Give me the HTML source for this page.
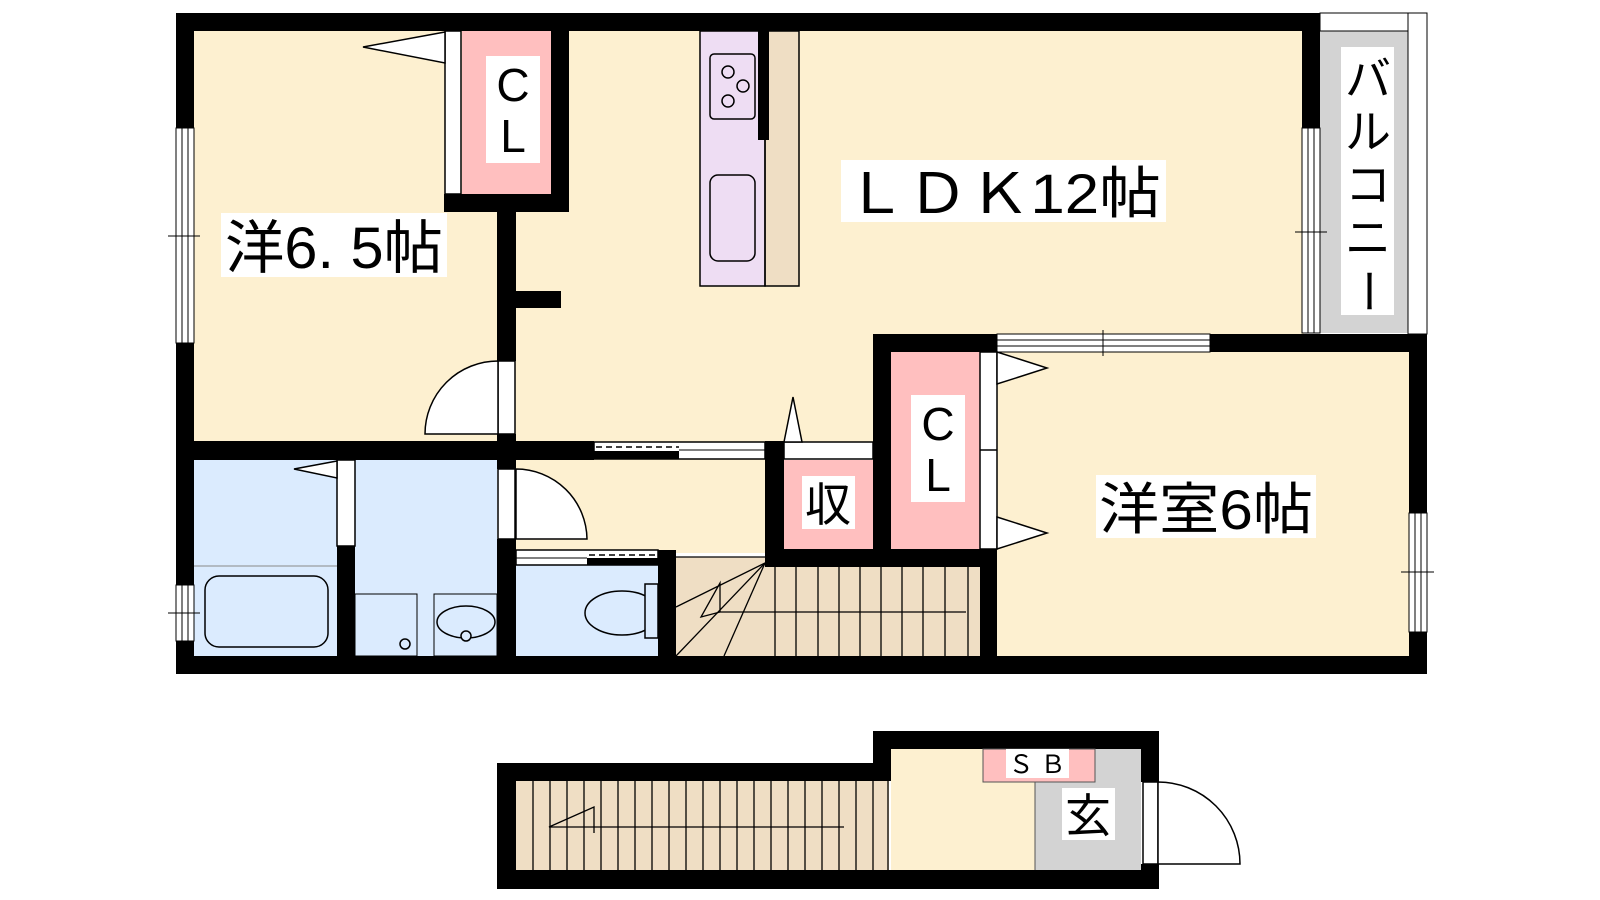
<!DOCTYPE html>
<html><head><meta charset="utf-8"><style>
html,body{margin:0;padding:0;background:#fff;}
svg{display:block;}
text{font-family:"Liberation Sans","Noto Sans CJK JP",sans-serif;}
</style></head><body>
<svg width="1600" height="900" viewBox="0 0 1600 900" xmlns="http://www.w3.org/2000/svg">
<g stroke="none">
<rect x="194" y="31" width="1110" height="412" fill="#FDF0D0"/>
<rect x="516" y="443" width="250" height="110" fill="#FDF0D0"/>
<rect x="997" y="350" width="412" height="306" fill="#FDF0D0"/>
<rect x="1320" y="31" width="88" height="302" fill="#D3D3D3"/>
<rect x="194" y="460" width="143" height="196" fill="#DBEBFE"/>
<rect x="355" y="460" width="142" height="196" fill="#DBEBFE"/>
<rect x="516" y="565" width="142" height="91" fill="#DBEBFE"/>
<rect x="676" y="557" width="304" height="99" fill="#EFDEC4"/>
<rect x="462" y="31" width="89" height="163" fill="#FFBFBF"/>
<rect x="784" y="460" width="89" height="89" fill="#FFBFBF"/>
<rect x="891" y="352" width="89" height="197" fill="#FFBFBF"/>
<rect x="700" y="31" width="65" height="255" fill="#EEDDF3"/>
<rect x="765" y="31" width="34" height="255" fill="#EFDEC4"/>
</g>
<g fill="none" stroke="#000" stroke-width="1.5">
<rect x="700" y="31" width="65" height="255"/>
<rect x="765" y="31" width="34" height="255"/>
<rect x="710" y="54" width="45" height="65" rx="4"/>
<circle cx="728" cy="72" r="6"/><circle cx="743" cy="86" r="6"/><circle cx="728" cy="101" r="6"/>
<rect x="710" y="175" width="45" height="86" rx="8"/>
</g>
<g fill="#000">
<rect x="176" y="13" width="1144" height="18"/>
<rect x="176" y="13" width="18" height="115"/>
<rect x="176" y="343" width="18" height="242"/>
<rect x="176" y="641" width="18" height="33"/>
<rect x="176" y="656" width="1251" height="18"/>
<rect x="1302" y="13" width="18" height="115"/>
<rect x="873" y="334" width="124" height="18"/>
<rect x="1210" y="334" width="217" height="18"/>
<rect x="1409" y="334" width="18" height="179"/>
<rect x="1409" y="632" width="18" height="42"/>
<rect x="551" y="31" width="18" height="181"/>
<rect x="444" y="194" width="125" height="18"/>
<rect x="497" y="212" width="19" height="149"/>
<rect x="516" y="291" width="45" height="17"/>
<rect x="497" y="434" width="19" height="35"/>
<rect x="176" y="441" width="418" height="19"/>
<rect x="337" y="546" width="18" height="110"/>
<rect x="497" y="539" width="19" height="117"/>
<rect x="658" y="550" width="18" height="106"/>
<rect x="758" y="31" width="11" height="109"/>
<rect x="765" y="441" width="19" height="126"/>
<rect x="765" y="549" width="232" height="18"/>
<rect x="873" y="334" width="18" height="233"/>
<rect x="980" y="549" width="17" height="107"/>
<rect x="497" y="763" width="394" height="18"/>
<rect x="497" y="763" width="19" height="126"/>
<rect x="497" y="870" width="662" height="19"/>
<rect x="873" y="731" width="286" height="18"/>
<rect x="873" y="731" width="18" height="50"/>
<rect x="1141" y="731" width="18" height="51"/>
<rect x="1141" y="864" width="18" height="25"/>
</g>
<g fill="#fff" stroke="#000" stroke-width="1">
<rect x="176" y="128" width="18" height="215"/>
<line x1="182" y1="128" x2="182" y2="343"/><line x1="188" y1="128" x2="188" y2="343"/>
<line x1="168" y1="236" x2="200" y2="236"/>
<rect x="176" y="585" width="18" height="56"/>
<line x1="182" y1="585" x2="182" y2="641"/><line x1="188" y1="585" x2="188" y2="641"/>
<line x1="168" y1="613" x2="200" y2="613"/>
<rect x="1302" y="128" width="18" height="205"/>
<line x1="1308" y1="128" x2="1308" y2="333"/><line x1="1314" y1="128" x2="1314" y2="333"/>
<line x1="1295" y1="232" x2="1327" y2="232"/>
<rect x="1409" y="513" width="18" height="119"/>
<line x1="1415" y1="513" x2="1415" y2="632"/><line x1="1421" y1="513" x2="1421" y2="632"/>
<line x1="1401" y1="572" x2="1434" y2="572"/>
<rect x="1320" y="13" width="107" height="18"/>
<rect x="1408" y="13" width="19" height="321"/>
<rect x="997" y="334" width="213" height="18"/>
<line x1="997" y1="340" x2="1210" y2="340"/><line x1="997" y1="346" x2="1210" y2="346"/>
<line x1="1103" y1="330" x2="1103" y2="356"/>
</g>
<g fill="#fff" stroke="#000" stroke-width="1.5">
<rect x="445" y="31" width="16" height="163"/>
<polygon points="445,32 363,47 445,63"/>
<rect x="498" y="361" width="17" height="73"/>
<path d="M498,361 A73,73 0 0 0 425,434 L498,434 Z"/>
<rect x="337" y="460" width="18" height="86"/>
<polygon points="337,461 294,469 337,478"/>
<rect x="498" y="469" width="17" height="70"/>
<path d="M516,469 A71,71 0 0 1 587,539 L516,539 Z"/>
<rect x="980" y="352" width="17" height="197"/>
<line x1="980" y1="450" x2="997" y2="450"/>
<polygon points="997,352 1047,368 997,384"/>
<polygon points="997,517 1047,533 997,549"/>
<rect x="784" y="442" width="89" height="17"/>
<polygon points="784,442 793,397 802,442"/>
<rect x="594" y="442" width="171" height="17"/>
<rect x="516" y="550" width="142" height="15"/>
<rect x="1143" y="782" width="15" height="82"/>
<path d="M1158,782 A82,82 0 0 1 1240,864 L1158,864 Z"/>
</g>
<rect x="594" y="451" width="85" height="8" fill="#000"/>
<line x1="596" y1="447" x2="679" y2="447" stroke="#000" stroke-width="1.5" stroke-dasharray="6,4"/>
<line x1="679" y1="450" x2="765" y2="450" stroke="#000" stroke-width="1"/>
<rect x="587" y="558" width="71" height="7" fill="#000"/>
<line x1="589" y1="555" x2="658" y2="555" stroke="#000" stroke-width="1.5" stroke-dasharray="6,4"/>
<line x1="516" y1="558" x2="587" y2="558" stroke="#000" stroke-width="1"/>
<g fill="none" stroke="#000" stroke-width="1.5">
<line x1="194" y1="566" x2="337" y2="566" stroke="#888" stroke-width="1"/>
<rect x="205" y="576" width="123" height="71" rx="14"/>
<rect x="355" y="594" width="62" height="62" stroke-width="1"/>
<circle cx="405" cy="644" r="5"/>
<rect x="434" y="594" width="63" height="62" stroke-width="1"/>
<ellipse cx="466" cy="622" rx="29" ry="16"/>
<circle cx="466" cy="636" r="5" fill="#DBEBFE"/>
<ellipse cx="622" cy="613" rx="37" ry="22"/>
<rect x="645" y="584" width="13" height="54" fill="#DBEBFE"/>
</g>
<g stroke="#000" stroke-width="1.3" fill="none">
<line x1="775" y1="567" x2="775" y2="656"/><line x1="796" y1="567" x2="796" y2="656"/><line x1="818" y1="567" x2="818" y2="656"/><line x1="839" y1="567" x2="839" y2="656"/><line x1="860" y1="567" x2="860" y2="656"/><line x1="881" y1="567" x2="881" y2="656"/><line x1="902" y1="567" x2="902" y2="656"/><line x1="923" y1="567" x2="923" y2="656"/><line x1="945" y1="567" x2="945" y2="656"/><line x1="968" y1="567" x2="968" y2="656"/>
<line x1="676" y1="557" x2="765" y2="557"/>
<line x1="765" y1="563" x2="676" y2="607"/>
<line x1="765" y1="563" x2="676" y2="656"/>
<line x1="765" y1="563" x2="724" y2="656"/>
<polyline points="966,612 720,612 701,617 720,583 720,612"/>
</g>
<rect x="516" y="781" width="373" height="89" fill="#EFDEC4"/>
<rect x="891" y="749" width="144" height="121" fill="#FDF0D0"/>
<rect x="1035" y="749" width="106" height="121" fill="#D3D3D3"/>
<rect x="983" y="749" width="112" height="33" fill="#FFBFBF" stroke="#555" stroke-width="1"/>
<line x1="1035" y1="782" x2="1035" y2="870" stroke="#555" stroke-width="1"/>
<g stroke="#000" stroke-width="1.3" fill="none">
<line x1="533" y1="781" x2="533" y2="870"/><line x1="550" y1="781" x2="550" y2="870"/><line x1="567" y1="781" x2="567" y2="870"/><line x1="584" y1="781" x2="584" y2="870"/><line x1="601" y1="781" x2="601" y2="870"/><line x1="618" y1="781" x2="618" y2="870"/><line x1="635" y1="781" x2="635" y2="870"/><line x1="652" y1="781" x2="652" y2="870"/><line x1="669" y1="781" x2="669" y2="870"/><line x1="686" y1="781" x2="686" y2="870"/><line x1="703" y1="781" x2="703" y2="870"/><line x1="720" y1="781" x2="720" y2="870"/><line x1="737" y1="781" x2="737" y2="870"/><line x1="754" y1="781" x2="754" y2="870"/><line x1="771" y1="781" x2="771" y2="870"/><line x1="788" y1="781" x2="788" y2="870"/><line x1="805" y1="781" x2="805" y2="870"/><line x1="822" y1="781" x2="822" y2="870"/><line x1="839" y1="781" x2="839" y2="870"/><line x1="856" y1="781" x2="856" y2="870"/><line x1="873" y1="781" x2="873" y2="870"/><line x1="888" y1="781" x2="888" y2="870"/>
<polyline points="844,827 549,827 594,807 594,833"/>
</g>
<g fill="#fff">
<rect x="221" y="213" width="226" height="64"/>
<rect x="841" y="160" width="325" height="62"/>
<rect x="1096" y="475" width="220" height="63"/>
<rect x="486" y="56" width="54" height="107"/>
<rect x="911" y="395" width="54" height="107"/>
<rect x="802" y="476" width="53" height="53"/>
<rect x="1341" y="47" width="53" height="268"/>
<rect x="1006" y="749" width="63" height="29"/>
<rect x="1062" y="788" width="53" height="52"/>
</g>
<g fill="#000">
<text x="225" y="268" font-size="58" textLength="218" lengthAdjust="spacingAndGlyphs">洋6. 5帖</text>
<text x="845" y="213" font-size="56" textLength="316" lengthAdjust="spacingAndGlyphs">ＬＤＫ12帖</text>
<text x="1099" y="529" font-size="56" textLength="214" lengthAdjust="spacingAndGlyphs">洋室6帖</text>
<text x="513" y="101" font-size="46" text-anchor="middle">C</text>
<text x="513" y="152" font-size="46" text-anchor="middle">L</text>
<text x="938" y="440" font-size="46" text-anchor="middle">C</text>
<text x="938" y="491" font-size="46" text-anchor="middle">L</text>
<text x="828" y="521" font-size="46" text-anchor="middle">収</text>
<g font-size="46" text-anchor="middle">
<text x="1368" y="95">バ</text>
<text x="1368" y="148">ル</text>
<text x="1368" y="201">コ</text>
<text x="1368" y="254">ニ</text>
<text x="1368" y="307" transform="rotate(90 1368 291)">ー</text>
</g>
<text x="1037" y="773" font-size="25" text-anchor="middle">Ｓ Ｂ</text>
<text x="1088" y="832" font-size="46" text-anchor="middle">玄</text>
</g>
</svg>
</body></html>
